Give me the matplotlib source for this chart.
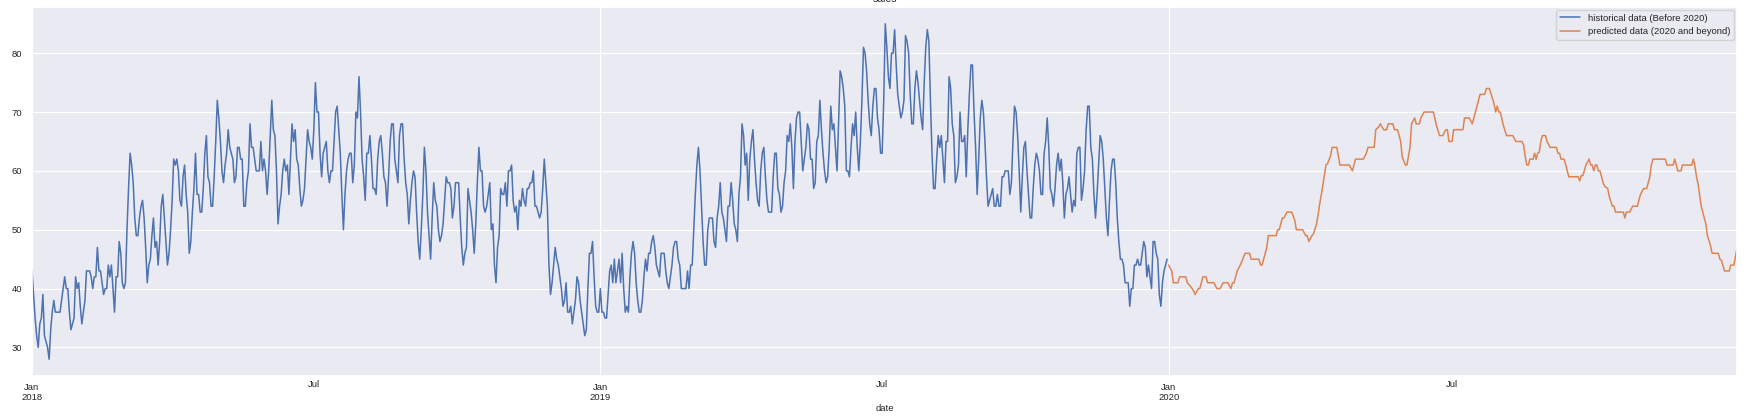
import numpy as np
import pandas as pd
import matplotlib
matplotlib.use("Agg")
import matplotlib.pyplot as plt
import matplotlib.dates as mdates
import seaborn as sns

# daily sales, 2018-01-01 .. 2019-12-31
hist_sales = [
    43, 39, 35, 32, 30, 34, 35, 39, 32, 31,
    30, 28, 33, 36, 38, 36, 36, 36, 36, 38,
    40, 42, 40, 40, 36, 33, 34, 35, 42, 40,
    41, 37, 34, 36, 38, 43, 43, 43, 42, 40,
    42, 42, 47, 43, 43, 41, 39, 40, 40, 44,
    42, 44, 40, 36, 42, 42, 48, 46, 41, 40,
    41, 50, 57, 63, 61, 58, 52, 49, 49, 52,
    54, 55, 52, 47, 41, 44, 45, 49, 52, 47,
    48, 44, 48, 54, 56, 52, 48, 44, 46, 50,
    55, 62, 61, 62, 60, 55, 54, 59, 61, 56,
    53, 46, 48, 53, 57, 63, 56, 56, 53, 53,
    57, 63, 66, 59, 58, 54, 54, 59, 65, 72,
    69, 65, 60, 58, 61, 63, 67, 64, 63, 62,
    58, 59, 64, 64, 62, 62, 54, 54, 58, 60,
    68, 64, 64, 62, 60, 60, 60, 65, 60, 62,
    60, 56, 60, 66, 72, 67, 66, 60, 51, 54,
    56, 60, 62, 60, 61, 56, 62, 68, 65, 67,
    62, 61, 57, 54, 55, 57, 62, 67, 65, 64,
    62, 67, 75, 70, 70, 63, 59, 63, 64, 65,
    60, 58, 60, 60, 65, 70, 71, 67, 63, 56,
    50, 56, 60, 62, 63, 63, 58, 61, 70, 69,
    76, 70, 62, 59, 55, 63, 63, 66, 62, 57,
    57, 56, 62, 65, 66, 63, 59, 58, 54, 59,
    65, 68, 68, 62, 60, 58, 66, 68, 68, 62,
    58, 56, 51, 55, 58, 60, 59, 53, 48, 45,
    50, 56, 64, 60, 53, 49, 45, 52, 58, 55,
    54, 50, 48, 49, 51, 55, 59, 58, 58, 57,
    52, 54, 58, 58, 58, 52, 47, 44, 46, 47,
    57, 55, 53, 50, 46, 51, 58, 64, 60, 60,
    54, 53, 54, 56, 58, 50, 51, 44, 41, 47,
    49, 57, 56, 56, 58, 54, 60, 60, 61, 55,
    53, 54, 50, 55, 54, 57, 55, 54, 57, 57,
    58, 58, 60, 54, 54, 53, 52, 53, 57, 62,
    58, 54, 44, 39, 41, 44, 47, 45, 44, 42,
    40, 37, 38, 41, 36, 36, 37, 34, 36, 38,
    42, 41, 38, 36, 34, 32, 33, 40, 46, 46,
    48, 42, 37, 36, 36, 40, 36, 36, 35, 35,
    39, 43, 44, 41, 45, 41, 43, 45, 41, 46,
    40, 36, 37, 36, 42, 46, 48, 46, 41, 38,
    36, 36, 38, 42, 45, 43, 46, 46, 48, 49,
    47, 44, 43, 42, 46, 46, 46, 43, 41, 40,
    42, 44, 47, 48, 48, 45, 44, 40, 40, 40,
    40, 43, 40, 44, 44, 50, 56, 61, 64, 60,
    54, 48, 44, 44, 50, 52, 52, 52, 48, 47,
    52, 54, 58, 53, 52, 50, 48, 54, 54, 58,
    55, 51, 50, 48, 56, 59, 68, 66, 61, 63,
    55, 62, 65, 67, 62, 58, 55, 54, 60, 63,
    64, 59, 55, 53, 53, 53, 59, 63, 63, 57,
    56, 53, 54, 58, 60, 66, 65, 68, 64, 57,
    65, 69, 70, 70, 65, 60, 62, 64, 68, 67,
    62, 62, 57, 58, 65, 66, 72, 67, 63, 60,
    58, 59, 64, 71, 67, 68, 64, 60, 68, 77,
    76, 74, 71, 60, 60, 59, 64, 68, 66, 70,
    64, 60, 65, 72, 81, 80, 77, 72, 68, 66,
    71, 74, 74, 69, 67, 63, 63, 72, 85, 81,
    76, 74, 80, 80, 84, 78, 73, 71, 69, 70,
    72, 83, 82, 80, 73, 68, 68, 74, 77, 75,
    72, 69, 67, 75, 81, 84, 82, 72, 63, 57,
    57, 62, 66, 64, 66, 62, 58, 65, 65, 76,
    74, 68, 66, 58, 59, 61, 70, 65, 65, 66,
    59, 67, 73, 78, 78, 70, 64, 56, 62, 69,
    72, 70, 65, 59, 54, 55, 56, 57, 54, 54,
    56, 54, 54, 59, 59, 60, 60, 60, 56, 58,
    65, 71, 70, 66, 60, 53, 59, 64, 65, 60,
    56, 52, 52, 57, 61, 63, 62, 60, 56, 56,
    63, 65, 69, 64, 57, 56, 54, 57, 61, 63,
    60, 62, 58, 52, 56, 57, 59, 56, 53, 55,
    54, 63, 64, 64, 55, 57, 60, 67, 71, 71,
    64, 62, 56, 52, 56, 61, 66, 65, 62, 57,
    52, 49, 55, 60, 62, 62, 58, 52, 48, 45,
    45, 44, 41, 41, 41, 37, 40, 40, 44, 44,
    45, 44, 44, 46, 48, 47, 42, 44, 42, 40,
    48, 48, 46, 45, 39, 37, 41, 43, 44, 45,
]

# predicted series for 2020: day of year (0 = Jan 1) and value at each corner
pred_day = [
    0, 1, 2, 3, 6, 7, 11, 12, 14, 16, 17, 19, 20, 22, 24, 25, 29, 31, 33, 35,
    38, 40, 41, 42, 43, 44, 46, 47, 49, 52, 53, 58, 59, 60, 61, 63, 64, 69, 70, 71,
    72, 73, 74, 76, 79, 81, 82, 86, 88, 89, 90, 92, 93, 95, 96, 97, 99, 100, 101, 102,
    104, 105, 108, 110, 116, 118, 120, 125, 127, 128, 132, 133, 135, 136, 138, 140, 141, 144, 145, 147,
    149, 150, 152, 153, 155, 156, 158, 159, 161, 162, 164, 170, 172, 174, 176, 178, 179, 180, 182, 183,
    189, 190, 193, 195, 196, 198, 200, 203, 204, 206, 209, 210, 211, 212, 213, 215, 217, 221, 223, 227,
    228, 229, 230, 231, 232, 234, 235, 236, 237, 238, 239, 240, 242, 243, 245, 249, 250, 251, 252, 254,
    255, 256, 257, 263, 264, 265, 266, 268, 270, 271, 272, 273, 274, 275, 276, 277, 279, 280, 282, 283,
    285, 286, 287, 292, 293, 294, 296, 298, 301, 303, 305, 307, 309, 310, 311, 319, 320, 324, 325, 327,
    329, 330, 336, 337, 338, 339, 340, 342, 343, 345, 346, 348, 349, 353, 354, 355, 357, 360, 361, 363,
    365,
]
pred_sales = [
    44, 43.5, 43, 41, 41, 42, 42, 41, 40.4, 39.6, 39, 40, 40, 42, 42, 41, 41, 40, 40, 41,
    41, 40, 41, 41, 42, 43, 44, 44.6, 46, 46, 45, 45, 44, 44, 45, 47, 49, 49, 50, 50,
    51, 52, 52, 53, 53, 51.6, 50, 50, 49, 49, 48, 49, 49.3, 51, 52.6, 54.4, 57.5, 59.2, 61, 61.2,
    62.6, 64, 64, 61, 61, 60, 62, 62, 63, 64, 64, 67, 67.5, 68, 67, 67, 68, 68, 67, 67,
    65, 62.4, 61, 61, 64, 68, 69, 68, 68, 69, 70, 70, 67.7, 66, 66, 67, 67, 65, 65, 67,
    67, 69, 69, 68, 69, 71, 73, 73, 74, 74, 71.4, 70, 71, 70, 70, 67.7, 66, 66, 65, 65,
    64.3, 62.4, 61, 61, 62, 62, 63, 62, 63, 63.2, 65, 66, 66, 65, 64, 64, 63, 63, 62, 62,
    61, 60, 59, 59, 58.3, 59.2, 59.2, 61, 62, 61, 61, 60, 61, 61, 60, 60, 58, 57.4, 57, 55.6,
    54, 54, 53, 53, 52, 53, 53, 54, 54, 56, 57, 57, 59, 61, 62, 62, 61, 61, 62, 60,
    60, 61, 61, 62, 60.8, 59, 57.8, 54, 53, 51, 49, 47.3, 46, 46, 45, 44.8, 43, 43, 44, 44,
    46.8,
]

hist_dates = pd.date_range("2018-01-01", periods=len(hist_sales), freq="D")
pred_dates = pd.Timestamp("2020-01-01") + pd.to_timedelta(pred_day, unit="D")

sns.set_theme(style="darkgrid")
plt.rcParams["font.family"] = ["Liberation Sans", "DejaVu Sans"]

fig = plt.figure(figsize=(17.47, 4.19), dpi=100)
ax = fig.add_axes([32 / 1747, 43 / 419, 1705 / 1747, 369 / 419])

ax.plot(hist_dates, hist_sales, color="#4C72B0", lw=1.1, label="historical data (Before 2020)")
ax.plot(pred_dates, pred_sales, color="#DD8452", lw=1.1, label="predicted data (2020 and beyond)")

ax.set_xlim(pd.Timestamp("2018-01-01"), pd.Timestamp("2020-12-31"))
ax.xaxis.set_major_locator(mdates.YearLocator())
ax.xaxis.set_major_formatter(mdates.DateFormatter("%b\n%Y"))
ax.xaxis.set_minor_locator(mdates.MonthLocator(bymonth=7))
ax.xaxis.set_minor_formatter(mdates.DateFormatter("%b"))
ax.grid(True, which="major", color="white", lw=0.9)
ax.grid(False, which="minor")
ax.set_yticks([30, 40, 50, 60, 70, 80])

ax.tick_params(axis="x", which="major", length=0, pad=5, labelsize=6.8, colors="#262626")
ax.tick_params(axis="x", which="minor", length=0, pad=3, labelsize=6.8, colors="#262626")
ax.tick_params(axis="y", length=0, pad=7, labelsize=6.8, colors="#262626")
for lbl in ax.get_xticklabels():
    lbl.set_horizontalalignment("center")

ax.set_xlabel("date", fontsize=6.8, labelpad=1, color="#262626")
# the title sits mostly above the saved area, as in the source image
ax.set_title("sales", fontsize=7.5, pad=3.6, color="#262626")

ax.legend(loc="upper right", fontsize=6.8, frameon=True, borderaxespad=0.3,
          handlelength=2.2, labelspacing=0.45)

fig.savefig("out.png", dpi=100)
